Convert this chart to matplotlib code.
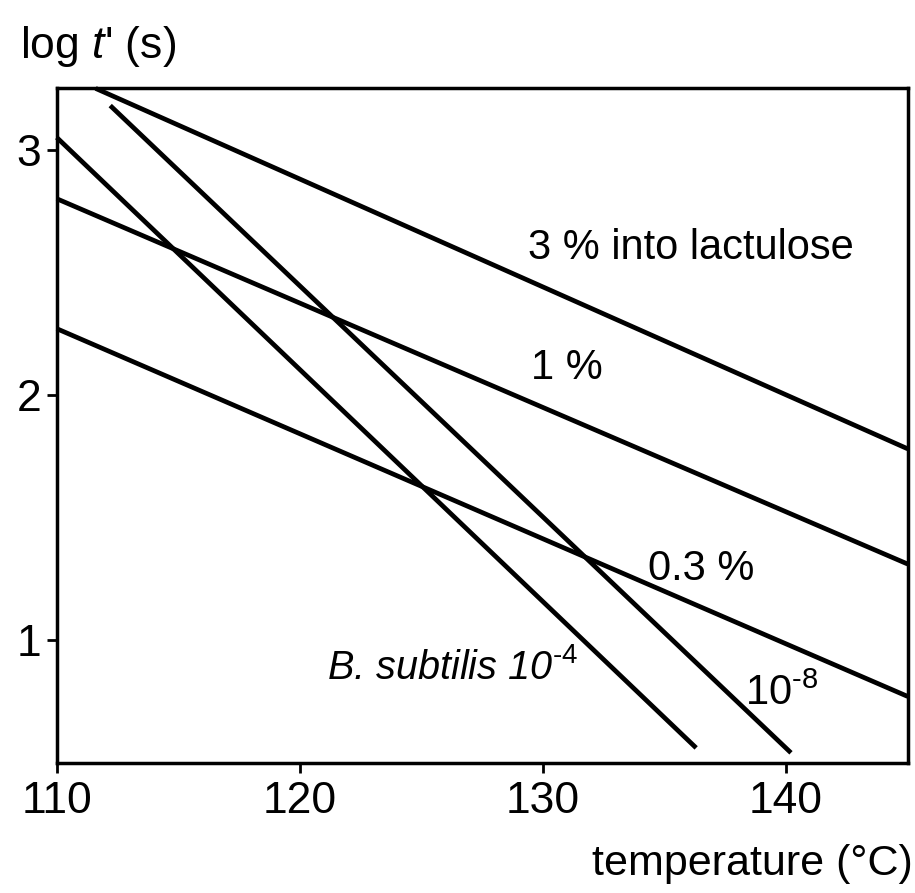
import matplotlib
matplotlib.use("Agg")
import matplotlib.pyplot as plt

plt.rcParams['font.family'] = ['Liberation Sans', 'DejaVu Sans']
plt.rcParams['mathtext.fontset'] = 'custom'
plt.rcParams['mathtext.rm'] = 'Liberation Sans'
plt.rcParams['mathtext.it'] = 'Liberation Sans:italic'
plt.rcParams['mathtext.bf'] = 'Liberation Sans:bold'

# line end points: (temperature, log t')
lactulose_3_x = [111.6, 145.0]
lactulose_3_y = [3.25, 1.78]
lactulose_1_x = [110.0, 145.0]
lactulose_1_y = [2.80, 1.31]
lactulose_03_x = [110.0, 145.0]
lactulose_03_y = [2.27, 0.77]
subtilis_4_x = [110.0, 136.3]
subtilis_4_y = [3.05, 0.56]
subtilis_8_x = [112.2, 140.2]
subtilis_8_y = [3.18, 0.54]

x_ticks = [110, 120, 130, 140]
y_ticks = [1, 2, 3]

fig = plt.figure(figsize=(9.15, 8.93), dpi=100)
ax = fig.add_axes([0.062, 0.146, 0.930, 0.755])

for xs, ys in [(lactulose_3_x, lactulose_3_y), (lactulose_1_x, lactulose_1_y),
               (lactulose_03_x, lactulose_03_y), (subtilis_4_x, subtilis_4_y),
               (subtilis_8_x, subtilis_8_y)]:
    ax.plot(xs, ys, color='black', lw=3.4, solid_capstyle='butt', clip_on=False)

ax.set_xlim(110, 145)
ax.set_ylim(0.5, 3.25)
ax.set_xticks(x_ticks)
ax.set_yticks(y_ticks)
ax.tick_params(axis='both', direction='out', length=7, width=2, labelsize=32,
               colors='black')
ax.tick_params(axis='x', pad=6)
ax.tick_params(axis='y', pad=4)
for s in ax.spines.values():
    s.set_linewidth(2.5)

# curve labels
ax.text(129.4, 2.60, "3 % into lactulose", fontsize=30, ha='left', va='center')
ax.text(129.5, 2.11, "1 %", fontsize=30, ha='left', va='center')
ax.text(134.3, 1.29, "0.3 %", fontsize=30, ha='left', va='center')
ax.text(121.1, 0.89, r"B. subtilis 10$^{\mathit{‐4}}$", fontsize=28.5,
        style='italic', ha='left', va='center')
ax.text(138.3, 0.78, r"10$^{‐8}$", fontsize=30, ha='left', va='center')

fig.text(0.022, 0.948, r"log $\mathit{t}$' (s)", fontsize=32, ha='left', va='center')
fig.text(0.997, 0.032, "temperature (°C)", fontsize=31, ha='right', va='center')

fig.savefig("out.png", dpi=100)
